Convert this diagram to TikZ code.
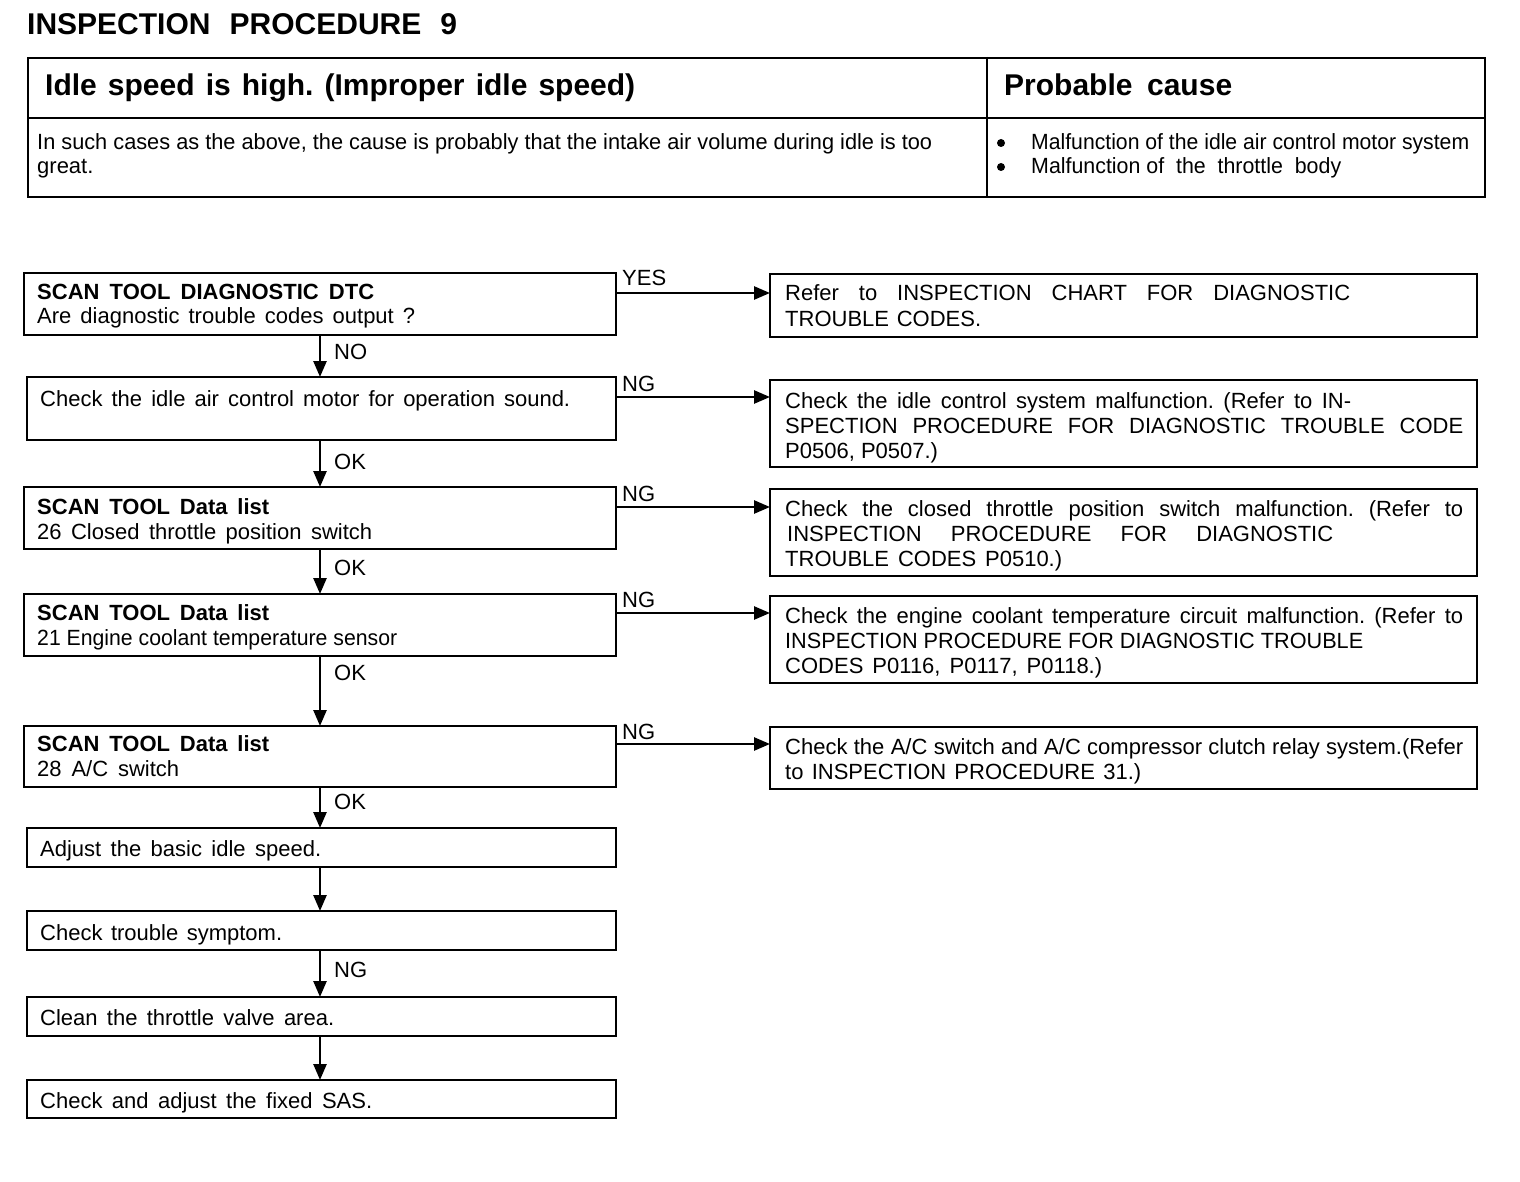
\documentclass[tikz,border=0pt]{standalone}
\usepackage{fontspec}
\setmainfont{Liberation Sans}
\usetikzlibrary{arrows.meta,calc}
\frenchspacing
\newlength\fitlen
\newcommand\fitline[2]{\settowidth\fitlen{#2}\ifdim\fitlen<#1\relax\makebox[#1][s]{#2}\else\resizebox{#1}{\height}{#2}\fi}
\tikzset{
  box/.style={draw, line width=2.8pt, anchor=north west, inner sep=0pt, outer sep=0pt},
  txt/.style={anchor=base west, inner sep=0pt, font=\fontsize{22}{26}\selectfont},
  btxt/.style={anchor=base west, inner sep=0pt, font=\fontsize{22}{26}\selectfont\bfseries},
  lab/.style={anchor=base west, inner sep=0pt, font=\fontsize{22}{26}\selectfont},
  arr/.style={line width=2.6pt, -{Triangle[length=16pt,width=13pt]}},
  bul/.style={circle, fill, inner sep=0pt, minimum size=8pt},
}
\begin{document}
\begin{tikzpicture}[x=1pt,y=-1pt]
\useasboundingbox (0,0) rectangle (1520,1182);
% title
\node[anchor=base west, inner sep=0pt, font=\fontsize{30}{34}\selectfont\bfseries] (title) at (27,35) {\fitline{430pt}{INSPECTION\ \ PROCEDURE\ \ 9}};
% top table
\node[draw, line width=2pt, anchor=north west, inner sep=0pt, minimum width=1457pt, minimum height=139pt] (tab) at (27,57) {};
\draw[line width=1.3pt] (tab.west |- 0,118) coordinate (hl) -- (hl -| tab.east);
\draw[line width=1.3pt] (987,57) coordinate (vt) -- (vt |- tab.south);
\node[anchor=base west, inner sep=0pt, font=\fontsize{30}{34}\selectfont\bfseries] (hd1) at (45,96) {\fitline{590pt}{Idle speed is high. (Improper idle speed)}};
\node[anchor=base west, inner sep=0pt, font=\fontsize{30}{34}\selectfont\bfseries] (hd2) at (1004,96) {\fitline{228pt}{Probable cause}};
\node[txt] (bd1) at (37,150) {\fitline{895pt}{In such cases as the above, the cause is probably that the intake air volume during idle is too}};
\node[txt] (bd2) at (37,174) {great.};
\node[bul] (u1) at (1001,143) {};
\node[bul] (u2) at (1001,167) {};
\node[txt] (pc1) at (1031,150) {\fitline{438pt}{Malfunction of the idle air control motor system}};
\node[txt] (pc2) at (1031,174) {\fitline{310pt}{Malfunction of\ \ the\ \ throttle\ \ body}};
% left boxes
\node[box, minimum width=592pt, minimum height=62pt] (b1) at (24,273) {};
\node[box, minimum width=589pt, minimum height=63pt] (b2) at (27,377) {};
\node[box, minimum width=592pt, minimum height=62pt] (b3) at (24,487) {};
\node[box, minimum width=592pt, minimum height=62pt] (b4) at (24,594) {};
\node[box, minimum width=592pt, minimum height=61pt] (b5) at (24,726) {};
\node[box, minimum width=589pt, minimum height=39pt] (b6) at (27,828) {};
\node[box, minimum width=589pt, minimum height=39pt] (b7) at (27,911) {};
\node[box, minimum width=589pt, minimum height=39pt] (b8) at (27,997) {};
\node[box, minimum width=589pt, minimum height=38pt] (b9) at (27,1080) {};
% right boxes
\node[box, minimum width=707pt, minimum height=63pt] (r1) at (770,274) {};
\node[box, minimum width=707pt, minimum height=87pt] (r2) at (770,380) {};
\node[box, minimum width=707pt, minimum height=87pt] (r3) at (770,489) {};
\node[box, minimum width=707pt, minimum height=87pt] (r4) at (770,596) {};
\node[box, minimum width=707pt, minimum height=62pt] (r5) at (770,727) {};
% left texts
\node[btxt] (t1a) at (37,299) {\fitline{337pt}{SCAN TOOL DIAGNOSTIC DTC}};
\node[txt] (t1b) at (37,323) {\fitline{378pt}{Are diagnostic trouble codes output ?}};
\node[txt] (t2) at (40,406) {\fitline{530pt}{Check the idle air control motor for operation sound.}};
\node[btxt] (t3a) at (37,514) {\fitline{232pt}{SCAN TOOL Data list}};
\node[txt] (t3b) at (37,539) {\fitline{335pt}{26 Closed throttle position switch}};
\node[btxt] (t4a) at (37,620) {\fitline{232pt}{SCAN TOOL Data list}};
\node[txt] (t4b) at (37,645) {\fitline{360pt}{21 Engine coolant temperature sensor}};
\node[btxt] (t5a) at (37,751) {\fitline{232pt}{SCAN TOOL Data list}};
\node[txt] (t5b) at (37,776) {\fitline{142pt}{28 A/C switch}};
\node[txt] (t6) at (40,856) {\fitline{281pt}{Adjust the basic idle speed.}};
\node[txt] (t7) at (40,940) {\fitline{242pt}{Check trouble symptom.}};
\node[txt] (t8) at (40,1025) {\fitline{294pt}{Clean the throttle valve area.}};
\node[txt] (t9) at (40,1108) {\fitline{332pt}{Check and adjust the fixed SAS.}};
% right texts
\node[txt] (s1a) at (785,301) {\fitline{565pt}{Refer to INSPECTION CHART FOR DIAGNOSTIC}};
\node[txt] (s1b) at (785,326) {\fitline{196pt}{TROUBLE CODES.}};
\node[txt] (s2a) at (785,408) {\fitline{566pt}{Check the idle control system malfunction. (Refer to IN-}};
\node[txt] (s2b) at (785,433) {\fitline{678pt}{SPECTION PROCEDURE FOR DIAGNOSTIC TROUBLE CODE}};
\node[txt] (s2c) at (785,458) {P0506, P0507.)};
\node[txt] (s3a) at (785,516) {\fitline{678pt}{Check the closed throttle position switch malfunction. (Refer to}};
\node[txt] (s3b) at (787,541) {\fitline{546pt}{INSPECTION PROCEDURE FOR DIAGNOSTIC}};
\node[txt] (s3c) at (785,566) {\fitline{277pt}{TROUBLE CODES P0510.)}};
\node[txt] (s4a) at (785,623) {\fitline{678pt}{Check the engine coolant temperature circuit malfunction. (Refer to}};
\node[txt] (s4b) at (785,648) {\fitline{578pt}{INSPECTION PROCEDURE FOR DIAGNOSTIC TROUBLE}};
\node[txt] (s4c) at (785,673) {\fitline{317pt}{CODES P0116, P0117, P0118.)}};
\node[txt] (s5a) at (785,754) {\fitline{678pt}{Check the A/C switch and A/C compressor clutch relay system.(Refer}};
\node[txt] (s5b) at (785,779) {\fitline{356pt}{to INSPECTION PROCEDURE 31.)}};
% vertical arrows
\draw[arr] (b1.south) -- (b2.north -| b1.south);
\draw[arr] (b2.south -| b1.south) -- (b3.north);
\draw[arr] (b3.south) -- (b4.north);
\draw[arr] (b4.south) -- (b5.north);
\draw[arr] (b5.south) -- (b6.north -| b5.south);
\draw[arr] (b6.south -| b5.south) -- (b7.north -| b5.south);
\draw[arr] (b7.south -| b5.south) -- (b8.north -| b5.south);
\draw[arr] (b8.south -| b5.south) -- (b9.north -| b5.south);
% vertical labels
\node[lab] (l1) at (334,359) {NO};
\node[lab] (l2) at (334,469) {OK};
\node[lab] (l3) at (334,575) {OK};
\node[lab] (l4) at (334,680) {OK};
\node[lab] (l5) at (334,809) {OK};
\node[lab] (l6) at (334,977) {NG};
% horizontal arrows
\coordinate (h1) at ($(b1.north east)+(0,20)$);
\coordinate (h2) at ($(b2.north east)+(0,20)$);
\coordinate (h3) at ($(b3.north east)+(0,20)$);
\coordinate (h4) at ($(b4.north east)+(0,19)$);
\coordinate (h5) at ($(b5.north east)+(0,18)$);
\draw[arr] (h1) -- (h1 -| r1.west);
\draw[arr] (h2) -- (h2 -| r2.west);
\draw[arr] (h3) -- (h3 -| r3.west);
\draw[arr] (h4) -- (h4 -| r4.west);
\draw[arr] (h5) -- (h5 -| r5.west);
\node[lab] (y1) at (622,286) {YES};
\node[lab] (g2) at (622,391) {NG};
\node[lab] (g3) at (622,501) {NG};
\node[lab] (g4) at (622,607) {NG};
\node[lab] (g5) at (622,739) {NG};
\end{tikzpicture}
\end{document}
